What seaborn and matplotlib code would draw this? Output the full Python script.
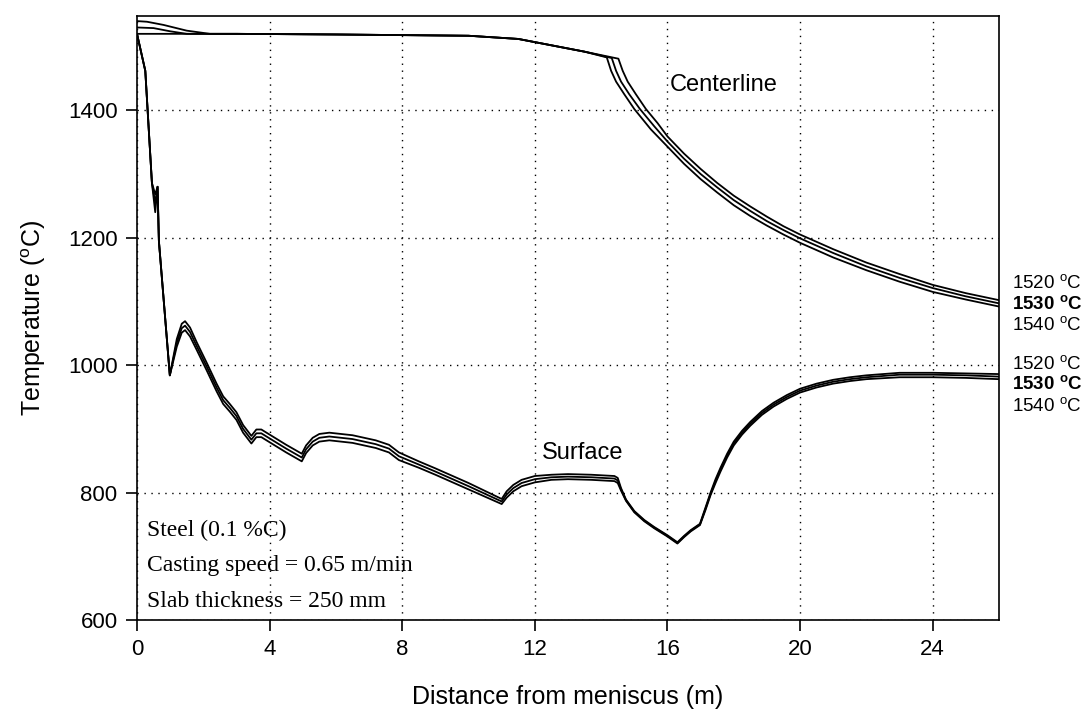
import matplotlib
matplotlib.use("Agg")
import matplotlib.pyplot as plt
import seaborn as sns

# ---------------- data ----------------
# Centerline temperatures (three pouring temperatures)
cl_x_1520 = [0.0, 1.0, 3.0, 6.0, 8.0, 10.0, 11.5, 12.7, 13.5, 14.52, 14.65, 14.8, 15.05, 15.35, 15.7, 16.0, 16.5, 17.0, 17.5, 18.0, 18.5, 19.0, 19.5, 20.0, 21.0, 22.0, 23.0, 24.0, 25.0, 26.0]
cl_y_1520 = [1520, 1520, 1520, 1519, 1518, 1517, 1512, 1500, 1492, 1481, 1462, 1445, 1425, 1402, 1380, 1359, 1332, 1308, 1286, 1266, 1249, 1233, 1218, 1205, 1182, 1161, 1143, 1126, 1113, 1102]

cl_x_1530 = [0.0, 0.5, 1.0, 1.5, 3.0, 6.0, 8.0, 10.0, 11.5, 12.7, 13.5, 14.32, 14.45, 14.6, 14.85, 15.17, 15.6, 16.0, 16.5, 17.0, 17.5, 18.0, 18.5, 19.0, 19.5, 20.0, 21.0, 22.0, 23.0, 24.0, 25.0, 26.0]
cl_y_1530 = [1530, 1529, 1524, 1520, 1520, 1519, 1518, 1517, 1512, 1500, 1492, 1482, 1462, 1445, 1425, 1402, 1375, 1351, 1324, 1300, 1279, 1259, 1242, 1226, 1212, 1199, 1176, 1155, 1137, 1121, 1108, 1097]

cl_x_1540 = [0.0, 0.3, 0.8, 1.5, 2.2, 3.0, 6.0, 8.0, 10.0, 11.5, 12.7, 13.5, 14.17, 14.3, 14.45, 14.7, 15.0, 15.5, 16.0, 16.5, 17.0, 17.5, 18.0, 18.5, 19.0, 19.5, 20.0, 21.0, 22.0, 23.0, 24.0, 25.0, 26.0]
cl_y_1540 = [1540, 1539, 1534, 1525, 1520, 1520, 1519, 1518, 1517, 1512, 1500, 1492, 1483, 1462, 1445, 1425, 1402, 1370, 1343, 1316, 1292, 1271, 1251, 1234, 1219, 1205, 1192, 1169, 1149, 1131, 1115, 1103, 1092]

# Surface temperatures
sf_x = [0.0, 0.25, 0.45, 0.55, 0.62, 0.66, 0.99,
        1.2, 1.35, 1.45, 1.6, 1.8,
        2.1, 2.4, 2.6, 2.8, 3.0,
        3.2, 3.45, 3.6, 3.75, 4.5,
        4.97, 5.1, 5.3, 5.5, 5.8,
        6.5, 7.2, 7.6, 7.9, 8.5,
        9.0, 10.0, 11.0, 11.15, 11.35,
        11.6, 12.0, 12.5, 13.0, 13.7,
        14.4, 14.5, 14.6, 14.75, 15.0,
        15.3, 15.6, 16.0, 16.3, 16.5,
        16.7, 16.98, 17.15, 17.3, 17.45,
        17.6, 17.8, 18.0, 18.25, 18.5,
        18.85, 19.2, 19.6, 20.0, 20.5,
        21.0, 21.5, 22.0, 23.0, 24.0,
        25.0, 26.0]
sf_y_1520 = [1520, 1462, 1286, 1268, 1280, 1195, 984,
             1041, 1065, 1069, 1059, 1036,
             1004, 971, 951, 939, 926,
             906, 889, 899, 899, 875,
             861, 874, 886, 892, 894,
             890, 882, 875, 863, 849,
             838, 815, 790, 802, 812,
             820, 826, 828, 829, 828,
             826, 823, 807, 789, 771,
             757, 746, 733, 722, 732,
             741, 751, 777, 800, 821,
             839, 861, 880, 897, 911,
             928, 941, 953, 963, 971,
             977, 981, 984, 988, 988,
             987, 986]
sf_y_1530 = [1520, 1462, 1286, 1255, 1280, 1195, 984,
             1035, 1058, 1062, 1052, 1030,
             998, 965, 945, 933, 920,
             900, 883, 893, 893, 869,
             855, 868, 880, 886, 888,
             884, 876, 869, 857, 844,
             833, 810, 786, 797, 807,
             815, 821, 824, 825, 824,
             822, 819, 805, 788, 770,
             756, 745, 732, 721, 731,
             740, 750, 775, 798, 818,
             836, 858, 877, 894, 908,
             925, 938, 950, 960, 968,
             974, 978, 981, 985, 985,
             984, 982]
sf_y_1540 = [1520, 1462, 1286, 1240, 1280, 1195, 984,
             1029, 1051, 1055, 1045, 1024,
             992, 959, 939, 927, 914,
             894, 877, 887, 887, 863,
             849, 862, 874, 880, 882,
             878, 870, 863, 851, 839,
             828, 805, 782, 792, 802,
             810, 816, 820, 821, 820,
             818, 815, 803, 787, 769,
             755, 744, 731, 720, 730,
             739, 749, 773, 796, 815,
             833, 855, 874, 891, 905,
             922, 935, 947, 957, 965,
             971, 975, 978, 981, 981,
             980, 978]

x_ticks = [0, 4, 8, 12, 16, 20, 24]
y_ticks = [600, 800, 1000, 1200, 1400]
legend_temps = ["1520", "1530", "1540"]

# ---------------- plot ----------------
sns.set_theme(style="white")
plt.rcParams['font.family'] = ['Liberation Sans', 'DejaVu Sans']
plt.rcParams['mathtext.fontset'] = 'custom'
plt.rcParams['mathtext.rm'] = 'Liberation Sans'
plt.rcParams['mathtext.bf'] = 'Liberation Sans:bold'

fig = plt.figure(figsize=(10.9, 7.22), dpi=100)
ax = fig.add_axes([137/1090, 1-620/722, (999-137)/1090, (620-16)/722])

lw = 1.3
for xs, ys in [(cl_x_1520, cl_y_1520), (cl_x_1530, cl_y_1530), (cl_x_1540, cl_y_1540),
               (sf_x, sf_y_1520), (sf_x, sf_y_1530), (sf_x, sf_y_1540)]:
    sns.lineplot(x=xs, y=ys, ax=ax, color='black', linewidth=lw, estimator=None, sort=False)

ax.set_xlim(0, 26)
ax.set_ylim(600, 1548)
ax.set_xticks(x_ticks)
ax.set_yticks(y_ticks)
ax.grid(True, color='black', linestyle=(0, (1, 4)), linewidth=1.0)
for s in ax.spines.values():
    s.set_color('black')
    s.set_linewidth(1.2)
ax.tick_params(axis='both', which='both', direction='out', length=8, width=1.2,
               colors='black', labelsize=16, bottom=True, left=True, top=False, right=False, pad=6)
ax.set_xlabel('Distance from meniscus (m)', fontsize=18, color='black', labelpad=18)
ax.set_ylabel(r'Temperature ($\mathregular{^{o}}$C)', fontsize=18, color='black', labelpad=14)

ax.text(16.08, 1440, 'Centerline', fontsize=17, va='center', ha='left', color='black')
ax.text(12.21, 862, 'Surface', fontsize=17, va='center', ha='left', color='black')

serif = ['Liberation Serif', 'DejaVu Serif']
for txt, py in [('Steel (0.1 %C)', 530), ('Casting speed = 0.65 m/min', 565), ('Slab thickness = 250 mm', 601.7)]:
    fig.text(146.7/1090, 1-py/722, txt, fontsize=17, family=serif, va='center', ha='left', color='black')

# right-hand labels
for base_ys in [(288.3, 309.3, 330.0), (369.3, 389.3, 410.7)]:
    for t, py in zip(legend_temps, base_ys):
        bold = (t == "1530")
        if bold:
            s = t + r' $\mathbf{^{o}}$C'
        else:
            s = t + r' $\mathregular{^{o}}$C'
        fig.text(1012/1090, 1-py/722, s, fontsize=13.5, va='baseline', ha='left', color='black',
                 fontweight='bold' if bold else 'normal')

fig.savefig('out.png', dpi=100)
